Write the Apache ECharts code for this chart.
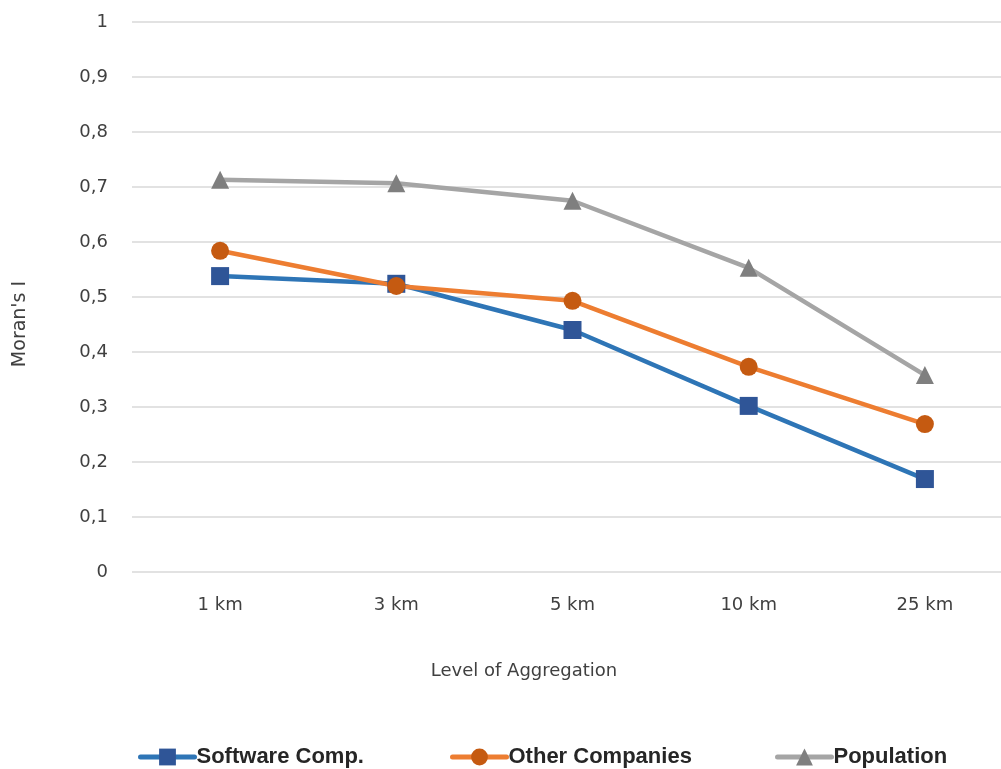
<!DOCTYPE html>
<html>
<head>
<meta charset="utf-8">
<style>
  html, body { margin: 0; padding: 0; background: #fff; overflow: hidden; }
  #chart { width: 1013px; height: 769px; }
</style>
<script src="https://cdn.jsdelivr.net/npm/echarts@6/dist/echarts.min.js"></script>
</head>
<body>
<div id="chart"></div>
<script>
// Spatial autocorrelation (Moran's I) by aggregation level
const categories = ['1 km', '3 km', '5 km', '10 km', '25 km'];
const softwareComp = [0.538, 0.524, 0.440, 0.302, 0.169];
const otherCompanies = [0.584, 0.520, 0.493, 0.373, 0.269];
const population = [0.713, 0.707, 0.675, 0.553, 0.358];
const yTicks = { min: 0, max: 1, interval: 0.1 };
const seriesNames = ['Software Comp.', 'Other Companies', 'Population'];

const FONT = '"DejaVu Sans", "Open Sans", sans-serif';
const LEGEND_FONT = '"Liberation Sans", Arial, sans-serif';
const TEXT = '#404040';

function series(name, data, lineColor, markColor, symbol, size) {
  return {
    name, type: 'line', data,
    symbol, symbolSize: size,
    lineStyle: { color: lineColor, width: 4.5 },
    itemStyle: { color: markColor, borderColor: markColor, borderWidth: 0 },
    emphasis: { disabled: true },
    z: 3
  };
}

function legend(name, left) {
  return {
    data: [name],
    left, top: 746,
    padding: 0,
    itemWidth: 54,
    itemHeight: 21,
    lineStyle: { width: 5, cap: 'round' },
    textStyle: { color: '#262626', fontFamily: LEGEND_FONT, fontSize: 22, fontWeight: 'bold', padding: [0, 0, 0, -3] }
  };
}

const chart = echarts.init(document.getElementById('chart'), null, { renderer: 'canvas' });
chart.setOption({
  animation: false,
  backgroundColor: '#ffffff',
  grid: { left: 132, right: 0, top: 22, bottom: 197, containLabel: false },
  xAxis: {
    type: 'category',
    data: categories,
    boundaryGap: true,
    axisLine: { show: false },
    axisTick: { show: false },
    axisLabel: { color: TEXT, fontFamily: FONT, fontSize: 18, margin: 24 }
  },
  yAxis: {
    type: 'value',
    min: yTicks.min, max: yTicks.max, interval: yTicks.interval,
    axisLine: { show: false },
    axisTick: { show: false },
    splitLine: { lineStyle: { color: '#d9d9d9', width: 1.5 } },
    axisLabel: {
      color: TEXT, fontFamily: FONT, fontSize: 18, margin: 24,
      formatter: v => String(+v.toFixed(1)).replace('.', ',')
    }
  },
  graphic: [
    {
      type: 'text', x: 20, y: 324, rotation: Math.PI / 2,
      style: { text: "Moran's I", fill: TEXT, font: '19px ' + FONT, textAlign: 'center', textVerticalAlign: 'middle' }
    },
    {
      type: 'text', x: 524, y: 671,
      style: { text: 'Level of Aggregation', fill: TEXT, font: '18px ' + FONT, textAlign: 'center', textVerticalAlign: 'middle' }
    }
  ],
  legend: [
    legend(seriesNames[0], 138),
    legend(seriesNames[1], 450),
    legend(seriesNames[2], 775)
  ],
  series: [
    series(seriesNames[0], softwareComp, '#2E75B6', '#2F5597', 'rect', 18),
    series(seriesNames[1], otherCompanies, '#ED7D31', '#C55A11', 'circle', 18),
    series(seriesNames[2], population, '#A5A5A5', '#7F7F7F', 'triangle', 18)
  ]
});
</script>
</body>
</html>
